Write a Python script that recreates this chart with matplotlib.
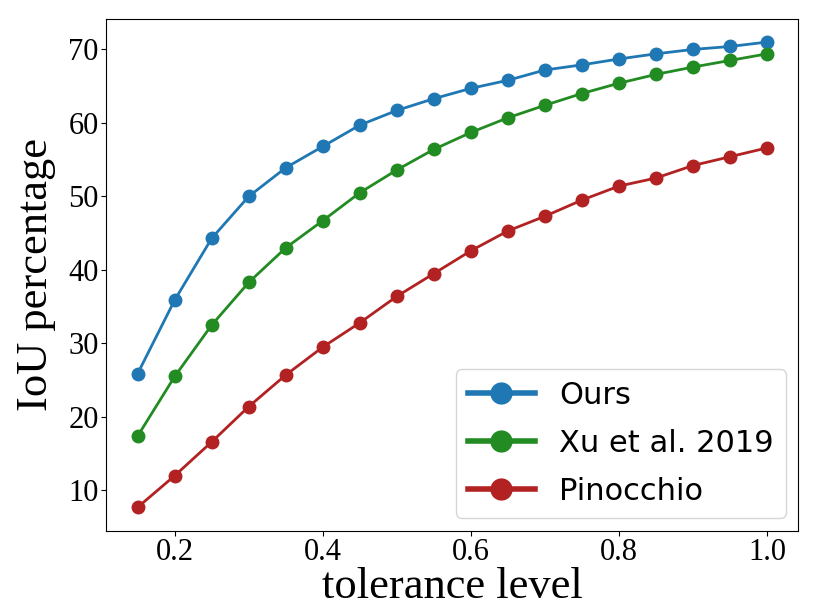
import matplotlib
matplotlib.use('Agg')
import matplotlib.pyplot as plt
from matplotlib.lines import Line2D

tolerance = [0.15, 0.2, 0.25, 0.3, 0.35, 0.4, 0.45, 0.5, 0.55, 0.6,
             0.65, 0.7, 0.75, 0.8, 0.85, 0.9, 0.95, 1.0]
ours = [25.9, 35.9, 44.3, 50.0, 53.9, 56.8, 59.7, 61.7, 63.3, 64.7,
        65.8, 67.2, 67.9, 68.7, 69.4, 70.0, 70.4, 71.0]
xu2019 = [17.4, 25.5, 32.5, 38.3, 43.0, 46.7, 50.5, 53.6, 56.4, 58.7,
          60.7, 62.4, 64.0, 65.4, 66.6, 67.6, 68.5, 69.4]
pinocchio = [7.7, 12.0, 16.6, 21.4, 25.7, 29.5, 32.8, 36.4, 39.5, 42.6,
             45.3, 47.3, 49.5, 51.4, 52.5, 54.2, 55.4, 56.6]

names = ['Ours', 'Xu et al. 2019', 'Pinocchio']
colors = ['#1f77b4', '#228b22', '#b22222']
serif = ['Liberation Serif', 'DejaVu Serif']

fig = plt.figure(figsize=(8.3, 6.07), dpi=100)
ax = fig.add_axes([0.128, 0.126, 0.834, 0.843])

for ys, c in zip([ours, xu2019, pinocchio], colors):
    ax.plot(tolerance, ys, color=c, marker='o', markersize=9, linewidth=2)

ax.tick_params(labelsize=22, pad=2)
plt.setp(ax.get_xticklabels() + ax.get_yticklabels(), family=serif)

ax.set_xlabel('tolerance level', family=serif, fontsize=32, labelpad=0)
ax.set_ylabel('IoU percentage', family=serif, fontsize=32, labelpad=9)

# legend handles are drawn thicker than the plotted lines
handles = [Line2D([], [], color=c, marker='o', markersize=15, linewidth=4)
           for c in colors]
ax.legend(handles, names, loc='lower right', prop={'family': 'DejaVu Sans', 'size': 22},
          handlelength=2.2, labelspacing=0.62, borderaxespad=0.4)

fig.savefig('out.png', dpi=100)
